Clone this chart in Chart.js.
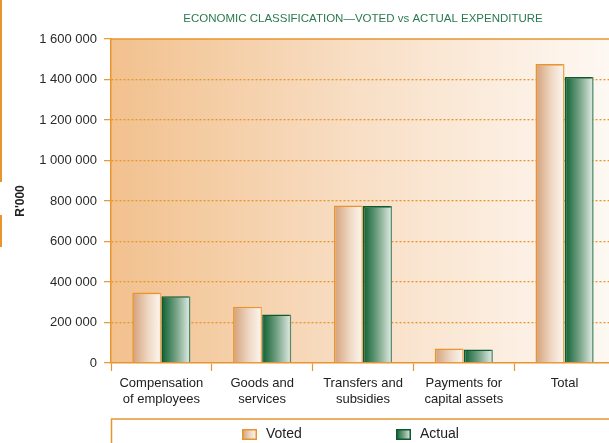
<!DOCTYPE html>
<html>
<head>
<meta charset="utf-8">
<script src="https://cdn.jsdelivr.net/npm/chart.js@4/dist/chart.umd.min.js"></script>
<style>
  html, body { margin: 0; padding: 0; background: #ffffff; }
  #wrap { width: 609px; height: 443px; overflow: hidden; position: relative; }
  canvas { display: block; }
</style>
</head>
<body>
<div id="wrap"><canvas id="chart" width="615" height="443"></canvas></div>
<script>
// Economic classification, R'000
const categories = [
  ['Compensation', 'of employees'],
  ['Goods and', 'services'],
  ['Transfers and', 'subsidies'],
  ['Payments for', 'capital assets'],
  'Total'
];
const votedValues  = [348000, 278000, 778000, 72000, 1476000];
const actualValues = [330000, 240000, 775000, 67000, 1412000];
const yTickValues  = [0, 200000, 400000, 600000, 800000, 1000000, 1200000, 1400000, 1600000];
const yTickLabels  = ['0', '200 000', '400 000', '600 000', '800 000', '1 000 000', '1 200 000', '1 400 000', '1 600 000'];

const ORANGE = '#e8952f';
const FONT = "'Liberation Sans', Arial, sans-serif";
const CAT_PCT = 0.578;

const styles = [
  { fill: [[0, '#d3a078'], [0.55, '#efd8c4'], [1, '#fdf8f2']], border: [[0, '#e8952f'], [0.9, '#e8952f'], [1, '#f0b06a']] },
  { fill: [[0, '#0c6031'], [0.5, '#74a184'], [1, '#e6efe9']], border: [[0, '#0d5a30'], [0.9, '#0d5a30'], [1, '#6f9f84']] }
];

// horizontal gradient spanning one bar
function barGradient(ctx, which, key) {
  const chart = ctx.chart;
  const xs = chart.scales.x;
  const fallback = styles[which][key][0][1];
  if (!xs || ctx.dataIndex === undefined) return fallback;
  const catW = xs.width / categories.length;
  const barW = catW * CAT_PCT / 2;
  const c = xs.getPixelForValue(ctx.dataIndex);
  if (!isFinite(c) || !isFinite(barW) || barW <= 0) return fallback;
  const x0 = which === 0 ? c - barW : c;
  const g = chart.ctx.createLinearGradient(x0, 0, x0 + barW, 0);
  styles[which][key].forEach(([p, col]) => g.addColorStop(p, col));
  return g;
}

const decor = {
  id: 'decor',
  beforeDraw(chart) {
    const { ctx, chartArea: a } = chart;
    const g = ctx.createLinearGradient(a.left, 0, a.right, 0);
    g.addColorStop(0, '#f2c18e');
    g.addColorStop(0.5, '#f8dfc6');
    g.addColorStop(1, '#fef9f4');
    ctx.save();
    ctx.fillStyle = g;
    ctx.fillRect(a.left, a.top, a.right - a.left, a.bottom - a.top);
    ctx.restore();
  },
  afterDraw(chart) {
    const { ctx, chartArea: a } = chart;
    ctx.save();
    ctx.strokeStyle = ORANGE;
    ctx.lineWidth = 1.5;
    // top edge of the plot
    ctx.beginPath();
    ctx.moveTo(a.left, a.top);
    ctx.lineTo(a.right, a.top);
    ctx.stroke();
    // page margin rule on the left
    ctx.lineWidth = 2;
    ctx.beginPath();
    ctx.moveTo(1, 0); ctx.lineTo(1, 182);
    ctx.moveTo(1, 215); ctx.lineTo(1, 247);
    ctx.stroke();
    // legend frame
    ctx.lineWidth = 1.5;
    ctx.beginPath();
    ctx.moveTo(a.left + 0.5, 450);
    ctx.lineTo(a.left + 0.5, 419);
    ctx.lineTo(a.right, 419);
    ctx.stroke();
    // legend entries
    const xs = [242, 396];
    chart.data.datasets.forEach((ds, i) => {
      const x = xs[i], y = 429;
      const lg = ctx.createLinearGradient(x, 0, x + 15, 0);
      styles[i].fill.forEach(([p, col]) => lg.addColorStop(p, col));
      ctx.fillStyle = lg;
      ctx.fillRect(x, y, 15, 11);
      ctx.strokeStyle = styles[i].border[0][1];
      ctx.lineWidth = 1.5;
      ctx.strokeRect(x + 0.75, y + 0.75, 13.5, 9.5);
      ctx.fillStyle = '#222';
      ctx.font = '14px ' + FONT;
      ctx.textBaseline = 'middle';
      ctx.textAlign = 'left';
      ctx.fillText(ds.label, x + 24, y + 5.5);
    });
    ctx.restore();
  }
};

new Chart(document.getElementById('chart'), {
  type: 'bar',
  data: {
    labels: categories,
    datasets: [
      {
        label: 'Voted',
        data: votedValues,
        backgroundColor: c => barGradient(c, 0, 'fill'),
        borderColor: c => barGradient(c, 0, 'border'),
        borderWidth: 1.6
      },
      {
        label: 'Actual',
        data: actualValues,
        backgroundColor: c => barGradient(c, 1, 'fill'),
        borderColor: c => barGradient(c, 1, 'border'),
        borderWidth: 1.6
      }
    ]
  },
  options: {
    responsive: false,
    animation: false,
    layout: { padding: 0 },
    datasets: { bar: { categoryPercentage: CAT_PCT, barPercentage: 1 } },
    plugins: {
      legend: { display: false },
      tooltip: { enabled: false },
      title: {
        display: true,
        fullSize: false,
        text: 'ECONOMIC CLASSIFICATION\u2014VOTED vs ACTUAL EXPENDITURE',
        color: '#2b7a4f',
        font: { family: FONT, size: 11.5, weight: 'normal', lineHeight: 1.2 },
        padding: { top: 12.1, bottom: 13.1 }
      }
    },
    scales: {
      x: {
        offset: true,
        grid: {
          display: true,
          drawOnChartArea: false,
          drawTicks: true,
          tickLength: 8,
          tickColor: ORANGE,
          tickWidth: 1.2
        },
        border: { display: true, color: ORANGE, width: 1.5 },
        ticks: {
          color: '#222',
          padding: 4,
          maxRotation: 0,
          autoSkip: false,
          font: { family: FONT, size: 13, lineHeight: 1.25 }
        },
        afterFit(scale) { scale.height = 80; }
      },
      y: {
        min: 0,
        max: 1600000,
        afterBuildTicks(scale) { scale.ticks = yTickValues.map(v => ({ value: v })); },
        grid: {
          color: c => (c.tick && (c.tick.value === 0 || c.tick.value === 1600000)) ? 'rgba(0,0,0,0)' : ORANGE,
          lineWidth: 1.3,
          drawTicks: true,
          tickLength: 7,
          tickColor: ORANGE,
          tickWidth: 1.2,
          tickBorderDash: []
        },
        border: { display: true, color: ORANGE, width: 1.5, dash: [2, 2] },
        ticks: {
          color: '#2a2a2a',
          padding: 7,
          font: { family: FONT, size: 13 },
          callback: (v) => yTickLabels[yTickValues.indexOf(v)]
        },
        title: {
          display: true,
          text: "R'000",
          color: '#222',
          font: { family: FONT, size: 12, weight: 'bold', lineHeight: 1.2 },
          padding: { top: 13, bottom: 0 }
        },
        afterFit(scale) { scale.width = 111; }
      }
    }
  },
  plugins: [decor]
});
</script>
</body>
</html>
